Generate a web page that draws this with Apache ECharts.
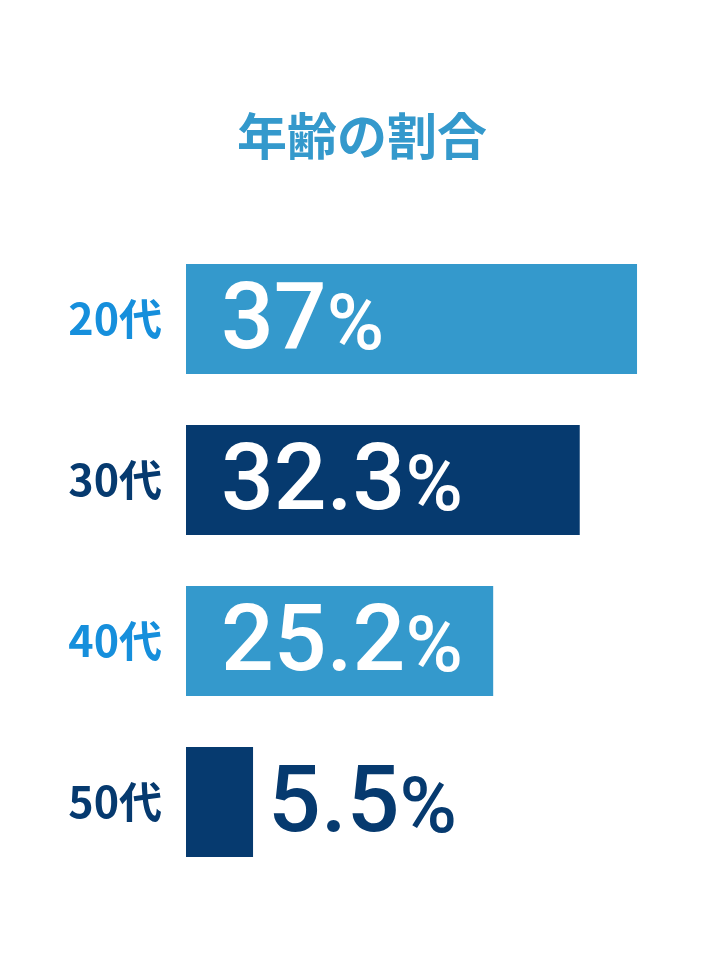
<!DOCTYPE html>
<html>
<head>
<meta charset="utf-8">
<script src="https://cdn.jsdelivr.net/npm/echarts@6/dist/echarts.min.js"></script>
<style>html,body{margin:0;padding:0;background:#fff;}#c{width:724px;height:976px;}</style>
</head>
<body>
<div id="c"></div>
<script>
var titleText = '年齢の割合';
var categories = ['20代', '30代', '40代', '50代'];
var values = [37, 32.3, 25.2, 5.5];
var valueLabels = ['37', '32.3', '25.2', '5.5'];

var LIGHT = '#3499cc', NAVY = '#063a6f', LIGHT_TXT = '#168fdc';
var barColors = [LIGHT, NAVY, LIGHT, NAVY];
var catColors = [LIGHT_TXT, NAVY, LIGHT_TXT, NAVY];
var numFont = 'Roboto';

function richFor(color) {
  return {
    a: { fontSize: 93, fontFamily: numFont, fontWeight: 500, color: color, lineHeight: 104, verticalAlign: 'bottom' },
    b: { fontSize: 78, fontFamily: numFont, fontWeight: 500, color: color, lineHeight: 104, verticalAlign: 'bottom', padding: [0, 0, 3, 0] }
  };
}

var data = values.map(function (v, i) {
  var item = { value: v, itemStyle: { color: barColors[i] } };
  if (v < 10) {
    item.label = { position: 'right', distance: 15, rich: richFor(NAVY) };
  }
  return item;
});

var chart = echarts.init(document.getElementById('c'));
chart.setOption({
  backgroundColor: '#fff',
  animation: false,
  title: {
    text: titleText, left: 'center', top: 106,
    textStyle: { fontFamily: 'Noto Sans CJK JP', fontWeight: 'bold', fontSize: 50, color: '#3499cc' }
  },
  grid: { left: 186, right: 50.4, top: 238.5, bottom: 93.5, containLabel: false },
  xAxis: { type: 'value', min: 0, max: 40, show: false },
  yAxis: {
    type: 'category', data: categories, inverse: true,
    axisLine: { show: false }, axisTick: { show: false },
    axisLabel: {
      margin: 24,
      formatter: function (v, i) { return '{c' + i + '|' + v + '}'; },
      rich: {
        c0: { fontSize: 43, fontWeight: 'bold', fontFamily: 'Noto Sans CJK JP', color: catColors[0] },
        c1: { fontSize: 43, fontWeight: 'bold', fontFamily: 'Noto Sans CJK JP', color: catColors[1] },
        c2: { fontSize: 43, fontWeight: 'bold', fontFamily: 'Noto Sans CJK JP', color: catColors[2] },
        c3: { fontSize: 43, fontWeight: 'bold', fontFamily: 'Noto Sans CJK JP', color: catColors[3] }
      }
    }
  },
  series: [{
    type: 'bar', data: data, barWidth: 110,
    label: {
      show: true, position: 'insideLeft', distance: 35,
      formatter: function (p) { return '{a|' + valueLabels[p.dataIndex] + '}{b|%}'; },
      rich: richFor('#fff')
    }
  }]
});
</script>
</body>
</html>
